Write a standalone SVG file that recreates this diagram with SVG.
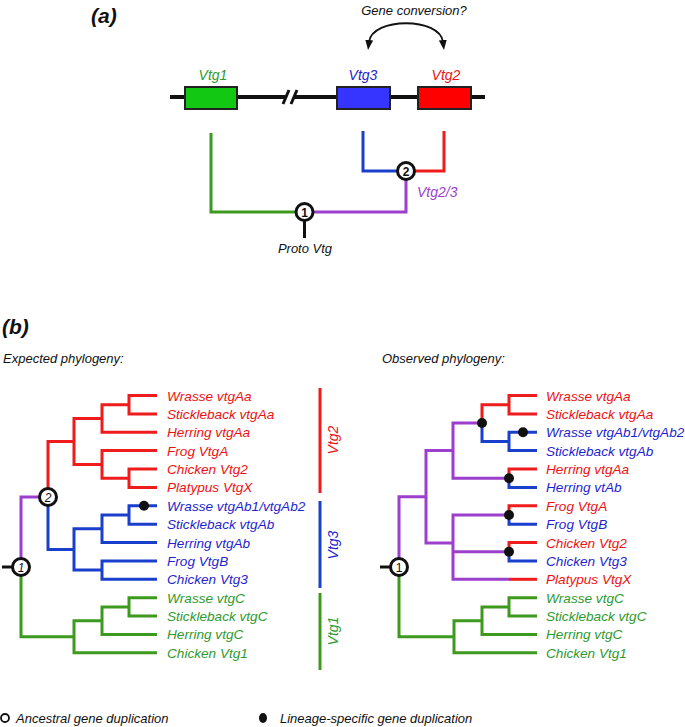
<svg xmlns="http://www.w3.org/2000/svg" width="685" height="727" viewBox="0 0 685 727">
<defs>
<style>
text{font-family:"Liberation Sans",Arial,sans-serif;font-style:italic}
.hd{font-size:21px;font-weight:bold;fill:#111}
.t13{font-size:13px;fill:#111}
.lf{font-size:13.6px}
.r{fill:#ee1111}.b{fill:#1f1fd0}.g{fill:#2f9a2f}.p{fill:#9b3fcc}
.e{fill:none;stroke-width:3;stroke-linejoin:miter}
.er{stroke:#ee1c1c}.eb{stroke:#1a3fcc}.eg{stroke:#3d9a1f}.ep{stroke:#9b3fcc}.ek{stroke:#111}
.nd{fill:#fff;stroke:#111;stroke-width:3}
.nl{font-size:12px;fill:#111;text-anchor:middle;font-style:normal;font-weight:bold}
.ni{font-size:12px;fill:#111;text-anchor:middle;font-style:italic;font-weight:normal}
.nn{font-size:12px;fill:#111;text-anchor:middle;font-style:normal;font-weight:normal}
.dot{fill:#111}
.box{stroke:#222;stroke-width:2}
</style>
<marker id="ah" viewBox="0 0 10 8" refX="2" refY="4" markerWidth="10" markerHeight="8" markerUnits="userSpaceOnUse" orient="auto-start-reverse">
<path d="M0,0 L10,4 L0,8 z" fill="#111"/>
</marker>
</defs>
<rect width="685" height="727" fill="#fff"/>

<!-- panel (a) -->
<text class="hd" x="91" y="23" font-size="22">(a)</text>
<text class="t13" x="414" y="15" text-anchor="middle">Gene conversion?</text>
<g id="connectors-a">
<path d="M369,42 C372,17 440,17 443,42" fill="none" stroke="#111" stroke-width="1.8" marker-start="url(#ah)" marker-end="url(#ah)"/>
<path d="M170,97 H286 M294,97 H485" stroke="#111" stroke-width="4" fill="none"/>
<path d="M283,104 L289,90 M291,104 L297,90" stroke="#111" stroke-width="3" fill="none"/>
<path class="e eg" d="M211,133 V212 H296"/>
<path class="e ep" d="M313,212 H406 V179.5"/>
<path class="e eb" d="M363,131 V171 H397.5"/>
<path class="e er" d="M444,131 V171 H414.5"/>
<path class="e ek" d="M304.5,220.5 V238"/>
</g>
<g id="gene-vtg1"><rect class="box" x="185" y="87" width="52" height="22" fill="#12c812"/><text x="213" y="80" font-size="14" text-anchor="middle" class="g">Vtg1</text></g>
<g id="gene-vtg3"><rect class="box" x="337" y="87" width="53" height="22" fill="#3535ff"/><text x="363" y="80" font-size="14" text-anchor="middle" class="b">Vtg3</text></g>
<g id="gene-vtg2"><rect class="box" x="418" y="87" width="53" height="22" fill="#ff0000"/><text x="446" y="80" font-size="14" text-anchor="middle" class="r">Vtg2</text></g>
<g id="a-node1"><circle class="nd" cx="304.5" cy="212" r="8.5"/><text class="nl" x="304.5" y="216.5">1</text></g>
<g id="a-node2"><circle class="nd" cx="406" cy="171" r="8.5"/><text class="nl" x="406" y="175.5">2</text></g>
<g id="a-proto"><text class="t13" x="305" y="253" text-anchor="middle">Proto Vtg</text></g>
<g id="a-vtg23"><text x="417" y="197" font-size="14" class="p">Vtg2/3</text></g>

<!-- panel (b) -->
<text class="hd" x="2" y="334">(b)</text>
<text class="t13" x="3" y="363">Expected phylogeny:</text>
<text class="t13" x="382" y="363">Observed phylogeny:</text>

<g id="connectors-expected">
<path class="e er" d="M157,395.5 H129 V413.9 H157"/>
<path class="e er" d="M129,404.7 H102 V432.3 H157"/>
<path class="e er" d="M157,469 H129 V487.4 H157"/>
<path class="e er" d="M157,450.6 H102 V478.2 H129"/>
<path class="e er" d="M102,418.5 H74 V464.4 H102"/>
<path class="e er" d="M74,441.5 H48 V488.5"/>
<path class="e eb" d="M157,505.8 H129 V524.2 H157"/>
<path class="e eb" d="M129,515 H102 V542.5 H157"/>
<path class="e eb" d="M157,560.9 H102 V579.3 H157"/>
<path class="e eb" d="M102,528.8 H74 V570.1 H102"/>
<path class="e eb" d="M74,549.4 H48 V505.5"/>
<path class="e ep" d="M39.5,497 H21 V558.5"/>
<path class="e eg" d="M157,597.7 H129 V616.1 H157"/>
<path class="e eg" d="M129,606.9 H102 V634.4 H157"/>
<path class="e eg" d="M102,620.7 H74 V652.8 H157"/>
<path class="e eg" d="M74,636.7 H21 V575.5"/>
<path class="e ek" d="M2,567 H12.5"/>
<circle class="dot" cx="144" cy="505.8" r="5"/>
</g>
<g id="exp-node2"><circle class="nd" cx="48" cy="497" r="8.5"/><text class="ni" x="48" y="501.5">2</text></g>
<g id="exp-node1"><circle class="nd" cx="21" cy="567" r="8.5"/><text class="ni" x="21" y="571.5">1</text></g>
<g id="exp-leaves">
<text class="lf r" x="167" y="400.5">Wrasse vtgAa</text>
<text class="lf r" x="167" y="418.9">Stickleback vtgAa</text>
<text class="lf r" x="167" y="437.3">Herring vtgAa</text>
<text class="lf r" x="167" y="455.6">Frog VtgA</text>
<text class="lf r" x="167" y="474">Chicken Vtg2</text>
<text class="lf r" x="167" y="492.4">Platypus VtgX</text>
<text class="lf b" x="167" y="510.8">Wrasse vtgAb1/vtgAb2</text>
<text class="lf b" x="167" y="529.2">Stickleback vtgAb</text>
<text class="lf b" x="167" y="547.5">Herring vtgAb</text>
<text class="lf b" x="167" y="565.9">Frog VtgB</text>
<text class="lf b" x="167" y="584.3">Chicken Vtg3</text>
<text class="lf g" x="167" y="602.7">Wrasse vtgC</text>
<text class="lf g" x="167" y="621.1">Stickleback vtgC</text>
<text class="lf g" x="167" y="639.4">Herring vtgC</text>
<text class="lf g" x="167" y="657.8">Chicken Vtg1</text>
</g>
<g id="clade-vtg2"><path class="e er" d="M320,388 V493"/><text class="r" font-size="14" text-anchor="middle" transform="translate(338,440) rotate(-90)">Vtg2</text></g>
<g id="clade-vtg3"><path class="e eb" d="M320,501 V588"/><text class="b" font-size="14" text-anchor="middle" transform="translate(338,545) rotate(-90)">Vtg3</text></g>
<g id="clade-vtg1"><path class="e eg" d="M320,593 V670"/><text class="g" font-size="14" text-anchor="middle" transform="translate(338,631) rotate(-90)">Vtg1</text></g>

<g id="connectors-observed">
<path class="e er" d="M537,395.5 H509 V413.9 H537"/>
<path class="e er" d="M509,404.7 H482 V423"/>
<path class="e eb" d="M482,423 V441.5 H509"/>
<path class="e eb" d="M537,432.3 H509 V450.6 H537"/>
<path class="e er" d="M537,469 H509 V478.2"/>
<path class="e eb" d="M509,478.2 V487.4 H537"/>
<path class="e er" d="M537,505.8 H509 V515"/>
<path class="e eb" d="M509,515 V524.2 H537"/>
<path class="e er" d="M537,542.5 H509 V551.7"/>
<path class="e eb" d="M509,551.7 V560.9 H537"/>
<path class="e er" d="M509,579.3 H537"/>
<path class="e ep" d="M482,423 H453 V478.2 H509"/>
<path class="e ep" d="M453,450.6 H426 V543 H453"/>
<path class="e ep" d="M509,515 H453 V579.3 H509"/>
<path class="e ep" d="M509,551.7 H453"/>
<path class="e ep" d="M426,496.8 H399 V558.5"/>
<path class="e eg" d="M537,597.7 H509 V616.1 H537"/>
<path class="e eg" d="M509,606.9 H482 V634.4 H537"/>
<path class="e eg" d="M482,620.7 H454 V652.8 H537"/>
<path class="e eg" d="M454,636.7 H399 V575.5"/>
<path class="e ek" d="M380,567 H390.5"/>
<circle class="dot" cx="482" cy="423" r="5"/>
<circle class="dot" cx="523" cy="432.3" r="5"/>
<circle class="dot" cx="509" cy="478.2" r="5"/>
<circle class="dot" cx="509" cy="515" r="5"/>
<circle class="dot" cx="509" cy="551.7" r="5"/>
</g>
<g id="obs-node1"><circle class="nd" cx="399" cy="567" r="8.5"/><text class="nn" x="399" y="571.5">1</text></g>
<g id="obs-leaves">
<text class="lf r" x="546" y="400.5">Wrasse vtgAa</text>
<text class="lf r" x="546" y="418.9">Stickleback vtgAa</text>
<text class="lf b" x="546" y="437.3">Wrasse vtgAb1/vtgAb2</text>
<text class="lf b" x="546" y="455.6">Stickleback vtgAb</text>
<text class="lf r" x="546" y="474">Herring vtgAa</text>
<text class="lf b" x="546" y="492.4">Herring vtAb</text>
<text class="lf r" x="546" y="510.8">Frog VtgA</text>
<text class="lf b" x="546" y="529.2">Frog VtgB</text>
<text class="lf r" x="546" y="547.5">Chicken Vtg2</text>
<text class="lf b" x="546" y="565.9">Chicken Vtg3</text>
<text class="lf r" x="546" y="584.3">Platypus VtgX</text>
<text class="lf g" x="546" y="602.7">Wrasse vtgC</text>
<text class="lf g" x="546" y="621.1">Stickleback vtgC</text>
<text class="lf g" x="546" y="639.4">Herring vtgC</text>
<text class="lf g" x="546" y="657.8">Chicken Vtg1</text>
</g>

<g id="legend">
<circle cx="5" cy="718" r="4" fill="#fff" stroke="#111" stroke-width="1.8"/>
<text class="t13" x="16" y="723">Ancestral gene duplication</text>
<ellipse cx="263" cy="718" rx="4" ry="5" fill="#111"/>
<text class="t13" x="280" y="723">Lineage-specific gene duplication</text>
</g>
</svg>
